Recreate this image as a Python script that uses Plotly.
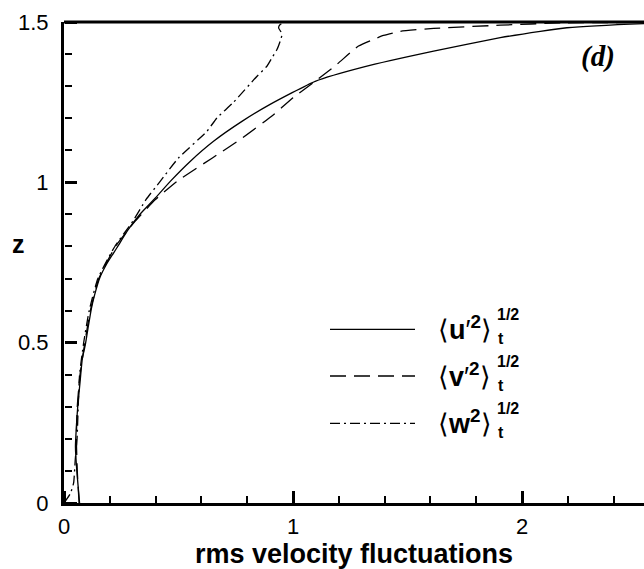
import plotly.graph_objects as go

# ---------------- data ----------------
z_u = [0.0, 0.05, 0.1, 0.175, 0.25, 0.3, 0.384, 0.45, 0.493, 0.55, 0.608, 0.65,
       0.702, 0.75, 0.796, 0.85, 0.899, 0.951, 1.003, 1.066, 1.128, 1.19, 1.243,
       1.315, 1.36, 1.409, 1.451, 1.471, 1.482, 1.495, 1.499]
u_rms = [0.068, 0.062, 0.056, 0.050, 0.055, 0.060, 0.071, 0.080, 0.093, 0.106,
         0.120, 0.134, 0.156, 0.19, 0.231, 0.278, 0.33, 0.399, 0.464, 0.552,
         0.653, 0.777, 0.9, 1.097, 1.31, 1.614, 1.905, 2.08, 2.196, 2.534, 2.75]

z_v = [0.0, 0.1, 0.2, 0.3, 0.4, 0.5, 0.6, 0.7, 0.8, 0.878, 0.946, 1.003, 1.076,
       1.139, 1.211, 1.264, 1.315, 1.367, 1.425, 1.446, 1.458, 1.471, 1.48, 1.49,
       1.497, 1.499]
v_rms = [0.066, 0.058, 0.054, 0.058, 0.07, 0.091, 0.115, 0.152, 0.225, 0.31,
         0.399, 0.493, 0.648, 0.78, 0.915, 1.0, 1.097, 1.19, 1.286, 1.352, 1.395,
         1.469, 1.614, 1.905, 2.167, 2.6]

z_w = [0.0, 0.03, 0.0625, 0.134, 0.2, 0.3, 0.4, 0.5, 0.6, 0.7, 0.8, 0.878, 0.946,
       1.003, 1.076, 1.159, 1.201, 1.248, 1.331, 1.362, 1.393, 1.414, 1.44, 1.461,
       1.471, 1.482, 1.492, 1.499, 1.499, 1.5]
w_rms = [0.0, 0.028, 0.042, 0.049, 0.057, 0.062, 0.068, 0.086, 0.11, 0.148, 0.222,
         0.3, 0.358, 0.42, 0.5, 0.624, 0.668, 0.738, 0.843, 0.886, 0.912, 0.93,
         0.944, 0.952, 0.946, 0.937, 0.944, 0.965, 0.5, 0.0]

x_major_ticks = [0, 1, 2]
x_minor_step = 0.2
y_major_ticks = [0, 0.5, 1, 1.5]
y_minor_step = 0.1
y_tick_text = ["0", "0.5", "1", "1.5"]
x_title = "rms velocity fluctuations"
y_title = "z"
panel_label = "(d)"

# ---------------- layout geometry ----------------
W, H = 644, 569
ML, MR, MT, MB = 64, 0, 22, 66
PW, PH = W - ML - MR, H - MT - MB
PX_PER_X = 229.0
X_MAX = PW / PX_PER_X
Y_MAX = 1.5


def px(xp):
    return (xp - ML) / PW


def py(yp):
    return (H - MB - yp) / PH


DASH_V = "16px,8px"
DASH_W = "10px,4px,2px,4px"
LW = 1.3

fig = go.Figure()
fig.add_trace(go.Scatter(x=u_rms, y=z_u, mode="lines",
                         line=dict(color="black", width=LW, shape="spline",
                                   smoothing=0.5),
                         showlegend=False))
fig.add_trace(go.Scatter(x=v_rms, y=z_v, mode="lines",
                         line=dict(color="black", width=LW, dash=DASH_V,
                                   shape="spline", smoothing=0.5),
                         showlegend=False))
fig.add_trace(go.Scatter(x=w_rms, y=z_w, mode="lines",
                         line=dict(color="black", width=LW, dash=DASH_W,
                                   shape="spline", smoothing=0.5),
                         showlegend=False))
# invisible helper trace so that the tick-only overlay axes are drawn
fig.add_trace(go.Scatter(x=[0], y=[0], xaxis="x2", yaxis="y2", mode="markers",
                         marker=dict(opacity=0), showlegend=False,
                         hoverinfo="skip"))

tickfont = dict(family="Liberation Sans, Arial, sans-serif", size=22, color="black")

fig.update_layout(
    width=W, height=H,
    margin=dict(l=ML, r=MR, t=MT, b=MB),
    paper_bgcolor="white", plot_bgcolor="white",
    xaxis=dict(range=[0, X_MAX], tickvals=x_major_ticks,
               ticktext=[str(t) for t in x_major_ticks], ticks="",
               showline=True, linewidth=3, linecolor="black",
               showgrid=False, zeroline=False, tickfont=tickfont,
               ticklabelstandoff=2,
               title=dict(text=x_title, standoff=1,
                          font=dict(family="Liberation Sans, Arial, sans-serif",
                                    size=27, color="black", weight="bold"))),
    yaxis=dict(range=[0, Y_MAX], tickvals=y_major_ticks, ticktext=y_tick_text,
               ticks="", showline=True, linewidth=3, linecolor="black",
               showgrid=False, zeroline=False, tickfont=tickfont,
               ticklabelstandoff=8),
    # tick-only axes sitting on the bottom/left edges, ticks pointing inward
    xaxis2=dict(overlaying="x", side="top", anchor="free", position=0,
                range=[0, X_MAX], tickmode="linear", tick0=0, dtick=1,
                ticks="outside", ticklen=12, tickwidth=2.5, tickcolor="black",
                showticklabels=False, showline=False, showgrid=False,
                zeroline=False,
                minor=dict(tick0=0, dtick=x_minor_step, ticks="outside",
                           ticklen=7, tickwidth=1.5, tickcolor="black",
                           showgrid=False)),
    yaxis2=dict(overlaying="y", side="right", anchor="free", position=0,
                range=[0, Y_MAX], tickmode="linear", tick0=0, dtick=0.5,
                ticks="outside", ticklen=12, tickwidth=2.5, tickcolor="black",
                showticklabels=False, showline=False, showgrid=False,
                zeroline=False,
                minor=dict(tick0=0, dtick=y_minor_step, ticks="outside",
                           ticklen=7, tickwidth=1.5, tickcolor="black",
                           showgrid=False)),
)

shapes = []
# top frame line
shapes.append(dict(type="line", xref="paper", yref="paper", x0=0, x1=1, y0=1, y1=1,
                   line=dict(color="black", width=3)))

annots = [
    dict(text=f"<b>{y_title}</b>", x=px(18.5), y=py(244), xref="paper", yref="paper",
         showarrow=False, xanchor="center", yanchor="middle",
         font=dict(family="Liberation Sans, Arial, sans-serif", size=25, color="black")),
    dict(text=f"<b><i>{panel_label}</i></b>", x=px(598), y=py(56), xref="paper",
         yref="paper", showarrow=False, xanchor="center", yanchor="middle",
         font=dict(family="Liberation Serif, Times New Roman, serif", size=29,
                   color="black")),
]

# custom legend
legend_rows = [
    ("u", "′", 329.3, None),
    ("v", "′", 376.0, DASH_V),
    ("w", "", 423.3, DASH_W),
]
lf = "Liberation Sans, Arial, sans-serif"
for letter, prime, yrow, dash in legend_rows:
    shapes.append(dict(type="line", xref="paper", yref="paper",
                       x0=px(330), x1=px(415), y0=py(yrow), y1=py(yrow),
                       line=dict(color="black", width=LW, dash=dash or "solid")))
    annots.append(dict(text=f"⟨<b>{letter}</b>{prime}<sup><b>2</b></sup>⟩",
                       x=px(436), y=py(yrow - 1), xref="paper", yref="paper",
                       showarrow=False, xanchor="left", yanchor="middle",
                       font=dict(family=lf, size=27, color="black")))
    annots.append(dict(text="<b>1/2</b>", x=px(495), y=py(yrow - 15),
                       xref="paper", yref="paper", showarrow=False,
                       xanchor="left", yanchor="middle",
                       font=dict(family=lf, size=16, color="black")))
    annots.append(dict(text="<b>t</b>", x=px(496), y=py(yrow + 9),
                       xref="paper", yref="paper", showarrow=False,
                       xanchor="left", yanchor="middle",
                       font=dict(family=lf, size=16, color="black")))

fig.update_layout(annotations=annots, shapes=shapes)

fig.write_html("out.html")
